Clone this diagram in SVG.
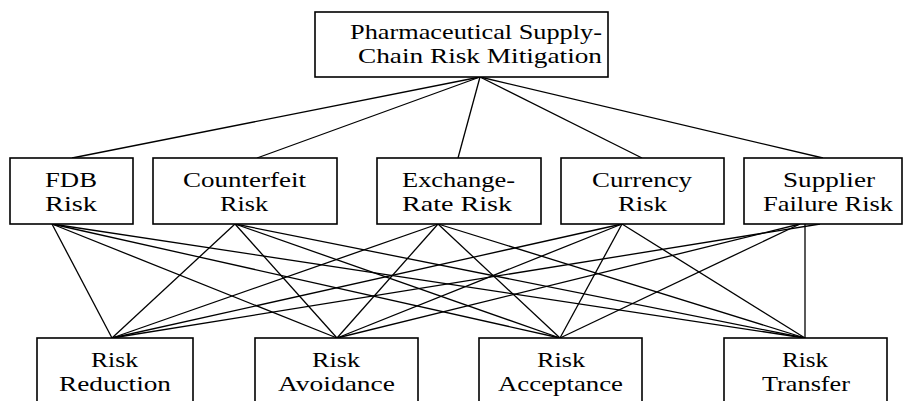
<svg xmlns="http://www.w3.org/2000/svg" width="904" height="401" viewBox="0 0 904 401">
<style>
.box{fill:#fff;stroke:#000;stroke-width:1.6}
.t{font-family:"Liberation Serif","Times New Roman",serif;font-size:22px;fill:#000}
.c line{stroke:#000;stroke-width:1.3}
</style>
<rect width="904" height="401" fill="#fff"/>
<g id="connectors" class="c">
<line x1="480" y1="77" x2="72" y2="158"/>
<line x1="480" y1="77" x2="257" y2="158"/>
<line x1="480" y1="77" x2="458" y2="158"/>
<line x1="480" y1="77" x2="642" y2="158"/>
<line x1="480" y1="77" x2="823" y2="158"/>
<line x1="52" y1="224" x2="112" y2="338"/>
<line x1="52" y1="224" x2="337" y2="338"/>
<line x1="52" y1="224" x2="560" y2="338"/>
<line x1="52" y1="224" x2="805" y2="338"/>
<line x1="235" y1="224" x2="112" y2="338"/>
<line x1="235" y1="224" x2="337" y2="338"/>
<line x1="235" y1="224" x2="560" y2="338"/>
<line x1="235" y1="224" x2="805" y2="338"/>
<line x1="438" y1="224" x2="112" y2="338"/>
<line x1="438" y1="224" x2="337" y2="338"/>
<line x1="438" y1="224" x2="560" y2="338"/>
<line x1="438" y1="224" x2="805" y2="338"/>
<line x1="622" y1="224" x2="112" y2="338"/>
<line x1="622" y1="224" x2="337" y2="338"/>
<line x1="622" y1="224" x2="560" y2="338"/>
<line x1="622" y1="224" x2="805" y2="338"/>
<line x1="820" y1="224" x2="112" y2="338"/>
<line x1="800" y1="224" x2="337" y2="338"/>
<line x1="800" y1="224" x2="560" y2="338"/>
<line x1="805" y1="224" x2="805" y2="338"/>
</g>
<g id="root">
<rect class="box" x="315" y="12" width="293" height="65"/>
<text class="t" x="350" y="39" textLength="252" lengthAdjust="spacingAndGlyphs">Pharmaceutical Supply-</text>
<text class="t" x="358" y="63" textLength="244" lengthAdjust="spacingAndGlyphs">Chain Risk Mitigation</text>
</g>
<g id="fdb">
<rect class="box" x="10" y="158" width="123" height="66"/>
<text class="t" x="45" y="187" textLength="52" lengthAdjust="spacingAndGlyphs">FDB</text>
<text class="t" x="45" y="211" textLength="52" lengthAdjust="spacingAndGlyphs">Risk</text>
</g>
<g id="counterfeit">
<rect class="box" x="153" y="158" width="184" height="66"/>
<text class="t" x="183" y="187" textLength="123" lengthAdjust="spacingAndGlyphs">Counterfeit</text>
<text class="t" x="220" y="211" textLength="48" lengthAdjust="spacingAndGlyphs">Risk</text>
</g>
<g id="exchange">
<rect class="box" x="377" y="158" width="164" height="66"/>
<text class="t" x="402" y="187" textLength="113" lengthAdjust="spacingAndGlyphs">Exchange-</text>
<text class="t" x="402" y="211" textLength="110" lengthAdjust="spacingAndGlyphs">Rate Risk</text>
</g>
<g id="currency">
<rect class="box" x="561" y="158" width="163" height="66"/>
<text class="t" x="592" y="187" textLength="100" lengthAdjust="spacingAndGlyphs">Currency</text>
<text class="t" x="618" y="211" textLength="49" lengthAdjust="spacingAndGlyphs">Risk</text>
</g>
<g id="supplier">
<rect class="box" x="744" y="158" width="158" height="66"/>
<text class="t" x="783" y="187" textLength="92" lengthAdjust="spacingAndGlyphs">Supplier</text>
<text class="t" x="763" y="211" textLength="130" lengthAdjust="spacingAndGlyphs">Failure Risk</text>
</g>
<g id="reduction">
<rect class="box" x="37" y="338" width="156" height="70"/>
<text class="t" x="91" y="367" textLength="47" lengthAdjust="spacingAndGlyphs">Risk</text>
<text class="t" x="59" y="391" textLength="112" lengthAdjust="spacingAndGlyphs">Reduction</text>
</g>
<g id="avoidance">
<rect class="box" x="255" y="338" width="163" height="70"/>
<text class="t" x="312" y="367" textLength="48" lengthAdjust="spacingAndGlyphs">Risk</text>
<text class="t" x="278" y="391" textLength="117" lengthAdjust="spacingAndGlyphs">Avoidance</text>
</g>
<g id="acceptance">
<rect class="box" x="479" y="338" width="163" height="70"/>
<text class="t" x="537" y="367" textLength="48" lengthAdjust="spacingAndGlyphs">Risk</text>
<text class="t" x="498" y="391" textLength="125" lengthAdjust="spacingAndGlyphs">Acceptance</text>
</g>
<g id="transfer">
<rect class="box" x="724" y="338" width="163" height="70"/>
<text class="t" x="782" y="367" textLength="46" lengthAdjust="spacingAndGlyphs">Risk</text>
<text class="t" x="762" y="391" textLength="88" lengthAdjust="spacingAndGlyphs">Transfer</text>
</g>
</svg>
